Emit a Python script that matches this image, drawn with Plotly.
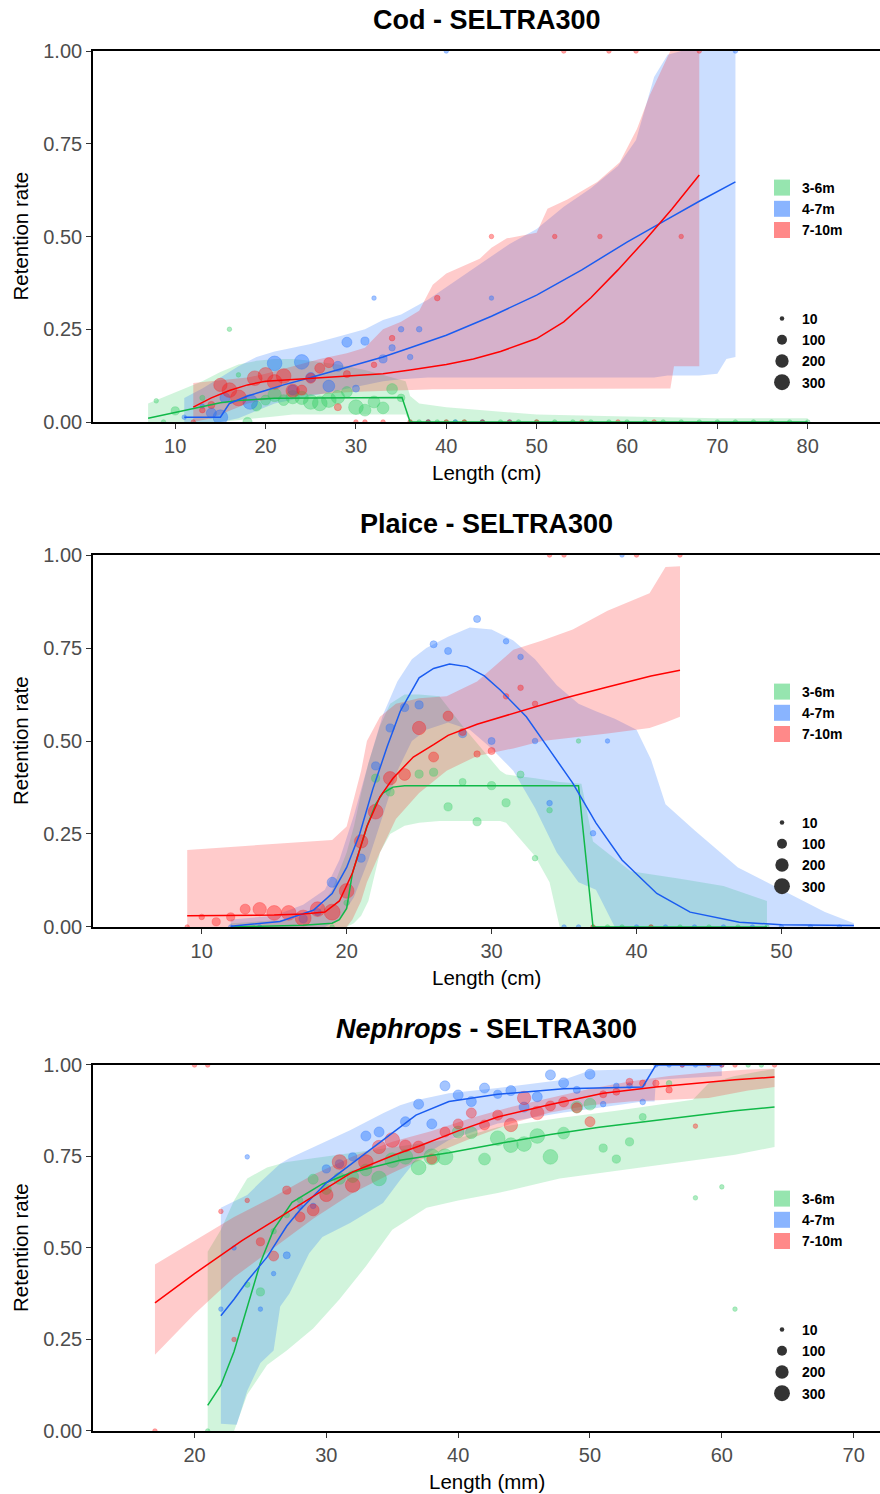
import math
import plotly.graph_objects as go

# ===================== DATA =====================
GROUPS = ["3-6m", "4-7m", "7-10m"]
SIZE_LEGEND = [10, 100, 200, 300]

# ---------- Cod ----------
COD_G_PT_L = [7.9, 8.7, 10, 13, 16, 17, 18, 19, 20, 21, 22, 23, 24, 25, 26, 27, 28, 29, 30, 31, 32, 33, 34, 35,
              36, 37, 38, 39, 40, 41, 42, 44, 46, 48, 50, 52, 54, 56, 58, 60, 62, 64, 66, 68, 70, 72, 74, 76, 78, 80]
COD_G_PT_R = [0.057, 0.0, 0.03, 0.065, 0.25, 0.127, 0.0, 0.043, 0.059, 0.073, 0.059, 0.067, 0.065, 0.054, 0.05, 0.059,
              0.067, 0.081, 0.04, 0.032, 0.054, 0.038, 0.089, 0.065,
              0, 0, 0, 0, 0, 0, 0, 0, 0, 0, 0, 0, 0, 0, 0, 0, 0, 0, 0, 0, 0, 0, 0, 0, 0, 0]
COD_G_PT_N = [10, 10, 60, 15, 10, 10, 80, 100, 100, 200, 120, 200, 200, 250, 250, 250, 200, 120, 250, 150, 150, 150, 120, 50,
              10, 10, 10, 10, 10, 10, 10, 10, 10, 10, 10, 10, 10, 10, 10, 10, 10, 10, 10, 10, 10, 10, 10, 10, 10, 10]
COD_B_PT_L = [11, 13, 14, 15, 15.5, 18.3, 21, 23, 24, 25, 27, 28, 29, 30, 31, 32, 33, 34, 35, 36, 37, 38, 40, 41, 44, 45, 47, 72]
COD_B_PT_R = [0.013, 0.043, 0.024, 0.013, 0.065, 0.054, 0.158, 0.086, 0.162, 0.12, 0.097, 0.15, 0.215, 0.09, 0.218,
              0.334, 0.17, 0.2, 0.25, 0.175, 0.25, 0.0, 1.0, 0.0, 0.0, 0.334, 0.0, 1.0]
COD_B_PT_N = [10, 10, 100, 250, 100, 250, 250, 100, 250, 100, 150, 100, 100, 40, 60, 10, 60, 30, 20, 20, 20, 10, 10, 10, 10, 10, 10, 10]
COD_R_PT_L = [12, 13, 14, 15, 16, 17, 18.8, 20, 21, 22, 23, 24, 25, 26, 27, 28, 29, 30, 31, 32, 33, 34, 36, 38, 39, 40,
              42, 44, 45, 47, 50, 52, 53, 55, 57, 58, 59, 61, 63, 66, 68]
COD_R_PT_R = [0.0, 0.032, 0.046, 0.1, 0.086, 0.065, 0.118, 0.127, 0.108, 0.124, 0.084, 0.086, 0.118, 0.145, 0.16, 0.04,
              0.129, 0.0, 0.0, 0.154, 0.0, 0.226, 0.0, 0.0, 0.334, 0.0, 0.0, 0.0, 0.5, 0.0, 0.0, 0.5, 1.0, 0.0, 0.5,
              1.0, 0.0, 1.0, 0.0, 0.5, 1.0]
COD_R_PT_N = [10, 20, 40, 200, 250, 300, 250, 250, 250, 250, 200, 100, 100, 100, 100, 40, 40, 10, 10, 20, 10, 20, 10, 10,
              20, 10, 10, 10, 10, 10, 10, 10, 10, 10, 10, 10, 10, 10, 10, 10, 10]

COD_G_FIT_L = [7, 9, 11, 13, 15, 17, 19, 21, 25, 30, 35.1, 36, 80]
COD_G_FIT_R = [0.01, 0.02, 0.03, 0.042, 0.052, 0.058, 0.062, 0.064, 0.065, 0.066, 0.066, 0.0, 0.0]
COD_B_FIT_L = [11, 15, 16, 18, 20, 22, 25, 28, 30, 33, 36, 40, 45, 50, 55, 60, 64, 68, 72]
COD_B_FIT_R = [0.013, 0.013, 0.05, 0.07, 0.085, 0.1, 0.12, 0.14, 0.155, 0.175, 0.2, 0.234, 0.285, 0.342, 0.41,
               0.485, 0.54, 0.595, 0.647]
COD_R_FIT_L = [12, 14, 16, 18, 20, 23, 26, 30, 33, 36, 40, 43, 46, 50, 53, 56, 59, 62, 65, 68]
COD_R_FIT_R = [0.04, 0.065, 0.085, 0.1, 0.11, 0.115, 0.118, 0.125, 0.13, 0.14, 0.155, 0.17, 0.19, 0.225, 0.27,
               0.335, 0.41, 0.49, 0.575, 0.666]

COD_G_BAND_L = [7, 9, 11, 13, 15, 17, 19, 21, 23, 25, 28, 31, 34, 35.5, 36, 37, 40, 45, 50, 60, 70, 80]
COD_G_BAND_HI = [0.05, 0.07, 0.09, 0.11, 0.135, 0.155, 0.165, 0.17, 0.17, 0.165, 0.155, 0.14, 0.12, 0.11, 0.07,
                 0.05, 0.04, 0.03, 0.02, 0.015, 0.01, 0.01]
COD_G_BAND_LO = [0, 0, 0, 0, 0, 0.005, 0.01, 0.015, 0.02, 0.02, 0.02, 0.02, 0.02, 0.02, 0, 0, 0, 0, 0, 0, 0, 0]
COD_B_BAND_L = [11, 13, 15, 17, 19, 21, 23, 25, 28, 31, 33, 35, 38, 41, 44, 47, 50, 53, 56, 59, 61, 63, 64.5, 66,
                68, 70, 71, 72]
COD_B_BAND_HI = [0.065, 0.09, 0.12, 0.15, 0.175, 0.19, 0.2, 0.21, 0.23, 0.25, 0.275, 0.29, 0.33, 0.38, 0.43, 0.48,
                 0.52, 0.58, 0.63, 0.69, 0.76, 0.93, 0.99, 1.0, 1.0, 1.0, 1.0, 1.0]
COD_B_BAND_LO = [0, 0, 0, 0.01, 0.03, 0.05, 0.06, 0.07, 0.085, 0.1, 0.11, 0.115, 0.12, 0.12, 0.12, 0.12, 0.12, 0.12,
                 0.12, 0.12, 0.12, 0.12, 0.125, 0.125, 0.125, 0.13, 0.17, 0.175]
COD_R_BAND_L = [12, 14, 16, 18, 20, 23, 26, 29, 31, 33, 35, 37, 38.5, 40, 43.7, 45, 46.7, 50, 51.2, 53.4, 56.7,
                59.2, 61.1, 62.5, 64.8, 65.2, 68]
COD_R_BAND_HI = [0.105, 0.11, 0.115, 0.12, 0.13, 0.15, 0.17, 0.185, 0.2, 0.25, 0.27, 0.3, 0.37, 0.4, 0.44, 0.47,
                 0.495, 0.51, 0.575, 0.6, 0.647, 0.7, 0.79, 0.88, 1.0, 1.0, 1.0]
COD_R_BAND_LO = [0, 0.01, 0.03, 0.05, 0.06, 0.07, 0.075, 0.08, 0.082, 0.085, 0.086, 0.087, 0.088, 0.088, 0.089,
                 0.09, 0.09, 0.09, 0.09, 0.09, 0.09, 0.09, 0.09, 0.09, 0.09, 0.15, 0.15]

# ---------- Plaice ----------
PLA_G_PT_L = [19, 20, 22, 23, 25, 26, 27, 28, 29, 30, 31, 32, 33, 34, 36, 37, 38, 39, 41, 43, 45, 47, 49]
PLA_G_PT_R = [0.0, 0.065, 0.4, 0.363, 0.411, 0.416, 0.323, 0.39, 0.283, 0.38, 0.334, 0.41, 0.185, 0.314, 0.5,
              0, 0, 0, 0, 0, 0, 0, 0]
PLA_G_PT_N = [10, 20, 60, 60, 60, 60, 60, 40, 60, 60, 60, 40, 20, 20, 10, 10, 10, 10, 10, 10, 10, 10, 10]
PLA_B_PT_L = [12, 14, 17, 18, 19, 21, 22, 23, 24, 25, 26, 27, 28, 29, 30, 31, 32, 33, 34, 35, 36, 37, 38, 39, 40,
              42, 44, 46, 48, 50, 52, 54]
PLA_B_PT_R = [0.0, 0.0, 0.022, 0.04, 0.12, 0.185, 0.433, 0.535, 0.59, 0.597, 0.76, 0.742, 0.52, 0.828, 0.5, 0.768,
              0.726, 0.5, 0.333, 0.0, 0.0, 0.252, 0.5, 1.0, 0.0, 0.0, 0.0, 0.0, 0.0, 0.0, 0.0, 0.0]
PLA_B_PT_N = [10, 10, 60, 40, 100, 60, 60, 60, 60, 60, 40, 40, 60, 40, 40, 20, 20, 20, 20, 10, 10, 20, 10, 10, 10,
              10, 10, 10, 10, 10, 10, 10]
PLA_R_PT_L = [9, 10, 11, 12, 13, 14, 15, 16, 17, 18, 19, 20, 21, 22, 23, 24, 25, 26, 27, 28, 29, 30, 31, 32, 33,
              34, 35, 37, 40, 41, 43]
PLA_R_PT_R = [0.0, 0.027, 0.014, 0.027, 0.048, 0.048, 0.038, 0.038, 0.024, 0.048, 0.04, 0.097, 0.23, 0.31, 0.4,
              0.41, 0.535, 0.457, 0.567, 0.524, 0.465, 0.473, 0.62, 0.643, 0.6, 1.0, 1.0, 0.0, 1.0, 0.0, 1.0]
PLA_R_PT_N = [10, 20, 60, 60, 100, 200, 250, 250, 300, 250, 300, 250, 200, 250, 200, 150, 200, 100, 100, 40, 30,
              40, 20, 20, 20, 10, 10, 10, 10, 10, 10]

PLA_G_FIT_L = [12, 17, 19, 19.5, 20, 20.4, 21, 21.4, 22, 22.5, 23.2, 24, 36, 37, 49]
PLA_G_FIT_R = [0.0, 0.005, 0.01, 0.02, 0.05, 0.145, 0.22, 0.27, 0.33, 0.36, 0.376, 0.38, 0.38, 0.0, 0.0]
PLA_B_FIT_L = [12, 15.4, 17.7, 19, 20, 20.9, 21.8, 22.8, 23.7, 25, 26, 27.1, 28.3, 29.5, 30.6, 32.4, 34, 35.6,
               37.2, 39, 41.4, 43.7, 47.1, 50, 55]
PLA_B_FIT_R = [0.002, 0.015, 0.045, 0.09, 0.16, 0.25, 0.37, 0.485, 0.58, 0.67, 0.695, 0.707, 0.7, 0.675, 0.637,
               0.565, 0.476, 0.387, 0.28, 0.18, 0.09, 0.04, 0.013, 0.006, 0.004]
PLA_R_FIT_L = [9, 12, 15, 17, 18.5, 19.5, 20.4, 21.4, 22.3, 23.2, 24.6, 26, 27, 29, 32, 35, 38, 41, 43]
PLA_R_FIT_R = [0.03, 0.03, 0.032, 0.035, 0.04, 0.07, 0.145, 0.27, 0.35, 0.4, 0.457, 0.49, 0.515, 0.545, 0.58,
               0.615, 0.645, 0.675, 0.69]

PLA_G_BAND_L = [12, 16, 18, 19, 20, 20.5, 21, 21.5, 22.3, 23, 24, 25, 26.4, 28, 30.6, 31, 33, 34, 34.7, 36.2, 37,
                39.6, 43, 46, 49]
PLA_G_BAND_HI = [0.01, 0.02, 0.04, 0.1, 0.2, 0.27, 0.36, 0.44, 0.54, 0.6, 0.625, 0.625, 0.62, 0.54, 0.42, 0.41,
                 0.4, 0.395, 0.39, 0.385, 0.23, 0.15, 0.13, 0.11, 0.07]
PLA_G_BAND_LO = [0, 0, 0, 0, 0, 0.01, 0.03, 0.07, 0.2, 0.25, 0.272, 0.28, 0.285, 0.285, 0.285, 0.28, 0.19, 0.12,
                 0.0, 0, 0, 0, 0, 0, 0]
PLA_B_BAND_L = [12, 15, 17, 18.5, 19.5, 20.5, 21.5, 22.5, 23.5, 24.5, 25.5, 27, 28.5, 30, 31.5, 33, 34.5, 36,
                37.2, 38.5, 40, 41, 42, 44, 47, 50, 53, 55]
PLA_B_BAND_HI = [0.02, 0.03, 0.06, 0.1, 0.18, 0.3, 0.44, 0.57, 0.66, 0.72, 0.75, 0.78, 0.805, 0.8, 0.77, 0.72, 0.65,
                 0.6, 0.58, 0.56, 0.53, 0.45, 0.33, 0.26, 0.16, 0.1, 0.04, 0.01]
PLA_B_BAND_LO = [0, 0, 0, 0, 0.02, 0.08, 0.18, 0.3, 0.42, 0.5, 0.53, 0.55, 0.53, 0.48, 0.42, 0.32, 0.2, 0.12, 0.1,
                 0.0, 0, 0, 0, 0, 0, 0, 0, 0]
PLA_R_BAND_L = [9, 12, 15, 18, 19, 20, 20.4, 21, 21.4, 22.3, 23.4, 25, 26.9, 29, 31.5, 33.5, 35.6, 38, 40.9, 42, 43]
PLA_R_BAND_HI = [0.207, 0.215, 0.222, 0.23, 0.234, 0.27, 0.33, 0.42, 0.5, 0.565, 0.6, 0.615, 0.62, 0.66, 0.745,
                 0.77, 0.8, 0.85, 0.897, 0.968, 0.97]
PLA_R_BAND_LO = [0, 0, 0, 0, 0, 0, 0.02, 0.07, 0.12, 0.2, 0.29, 0.36, 0.42, 0.46, 0.48, 0.5, 0.51, 0.52, 0.535,
                 0.55, 0.565]

# ---------- Nephrops ----------
NEP_G_PT_L = [21, 24, 25, 26, 27, 28, 29, 30, 31, 32, 33, 34, 35, 36, 37, 38, 39, 40, 41, 42, 43, 44, 45, 46, 47,
              48, 49, 50, 51, 52, 53, 54, 56, 58, 60, 61, 62, 63]
NEP_G_PT_R = [0.0, 0.4, 0.38, 0.546, 0.59, 0.631, 0.688, 0.66, 0.69, 0.695, 0.713, 0.69, 0.74, 0.749, 0.72, 0.749,
              0.749, 0.817, 0.815, 0.743, 0.8, 0.781, 0.784, 0.806, 0.749, 0.814, 0.885, 0.893, 0.773, 0.743, 0.79,
              0.858, 0.95, 0.637, 0.667, 0.333, 1.0, 1.0]
NEP_G_PT_N = [10, 20, 60, 20, 20, 20, 100, 100, 150, 150, 150, 250, 250, 250, 250, 300, 300, 150, 150, 150, 250,
              250, 250, 250, 250, 150, 150, 150, 60, 60, 60, 40, 20, 10, 10, 10, 10, 10]
NEP_B_PT_L = [22, 23, 24, 25, 26, 27, 28, 29, 30, 31, 32, 33, 34, 36, 37, 38, 39, 40, 41, 42, 43, 44, 45, 46, 47,
              48, 49, 50, 51, 52, 53, 54, 55, 56, 57, 58, 60]
NEP_B_PT_R = [0.333, 0.5, 0.749, 0.333, 0.43, 0.48, 0.613, 0.615, 0.716, 0.73, 0.749, 0.806, 0.817, 0.845, 0.893,
              0.839, 0.943, 0.918, 0.9, 0.937, 0.92, 0.93, 0.885, 0.913, 0.973, 0.951, 0.932, 0.975, 0.893, 0.943,
              0.943, 0.899, 1.0, 1.0, 1.0, 1.0, 1.0]
NEP_B_PT_N = [10, 10, 10, 10, 10, 40, 20, 20, 60, 60, 60, 100, 100, 100, 100, 100, 100, 100, 100, 100, 60, 100,
              100, 100, 100, 100, 40, 100, 20, 20, 20, 20, 10, 10, 10, 10, 10]
NEP_R_PT_L = [17, 20, 21, 22, 23, 24, 25, 26, 27, 28, 29, 30, 31, 32, 33, 34, 35, 36, 37, 38, 39, 40, 41, 42, 43,
              44, 45, 46, 47, 48, 49, 50, 51, 52, 53, 54, 55, 56, 57, 58, 59, 60, 61, 64]
NEP_R_PT_R = [0.0, 1.0, 1.0, 0.6, 0.25, 0.63, 0.517, 0.478, 0.658, 0.585, 0.604, 0.645, 0.735, 0.672, 0.735,
              0.776, 0.795, 0.779, 0.776, 0.743, 0.817, 0.839, 0.869, 0.836, 0.863, 0.836, 0.91, 0.869, 0.888, 0.899,
              0.883, 0.845, 0.92, 0.927, 0.954, 0.95, 0.95, 0.932, 1.0, 0.833, 1.0, 1.0, 1.0, 1.0]
NEP_R_PT_N = [10, 10, 10, 10, 10, 10, 60, 100, 60, 100, 150, 200, 250, 250, 250, 200, 250, 150, 150, 100, 100,
              100, 100, 100, 100, 200, 200, 200, 100, 100, 100, 100, 40, 40, 40, 30, 30, 30, 10, 10, 10, 10, 10, 10]

NEP_G_FIT_L = [21, 22, 23, 24, 25, 26, 27.4, 29.7, 31.8, 35.6, 39.3, 43, 47, 50.7, 54, 58.3, 61, 64]
NEP_G_FIT_R = [0.07, 0.125, 0.217, 0.34, 0.46, 0.55, 0.625, 0.675, 0.705, 0.74, 0.76, 0.785, 0.81, 0.83, 0.845,
               0.863, 0.875, 0.885]
NEP_B_FIT_L = [22, 23, 24, 25.5, 27, 28, 30, 32.3, 34.3, 36.8, 39.3, 43, 48, 54, 55, 60]
NEP_B_FIT_R = [0.315, 0.36, 0.41, 0.475, 0.56, 0.604, 0.678, 0.74, 0.795, 0.863, 0.9, 0.92, 0.935, 0.94, 1.0, 1.0]
NEP_R_FIT_L = [17, 20, 23.6, 27, 30, 32, 35, 37, 40, 43, 47, 51, 55, 58, 61, 64]
NEP_R_FIT_R = [0.35, 0.43, 0.52, 0.596, 0.665, 0.708, 0.752, 0.778, 0.82, 0.858, 0.892, 0.923, 0.94, 0.95, 0.96,
               0.967]

NEP_G_BAND_L = [21, 22, 23, 24, 25.5, 27, 29, 31, 33, 35, 37.6, 40, 43, 47.7, 52, 55, 57.8, 59, 61, 64]
NEP_G_BAND_HI = [0.49, 0.55, 0.63, 0.69, 0.72, 0.735, 0.745, 0.755, 0.765, 0.775, 0.79, 0.8, 0.83, 0.855, 0.875,
                 0.89, 0.905, 0.95, 0.97, 0.99]
NEP_G_BAND_LO = [0, 0, 0, 0.1, 0.18, 0.22, 0.28, 0.36, 0.45, 0.55, 0.61, 0.63, 0.65, 0.69, 0.71, 0.725, 0.74,
                 0.745, 0.755, 0.776]
NEP_B_BAND_L = [22, 23.2, 24, 25, 26, 26.5, 27.2, 28.7, 29.7, 31.8, 34.3, 35.6, 36.8, 39.3, 43, 48, 50, 54, 54.9,
                55, 60]
NEP_B_BAND_HI = [0.61, 0.63, 0.645, 0.68, 0.713, 0.73, 0.745, 0.77, 0.787, 0.822, 0.868, 0.89, 0.904, 0.923,
                 0.937, 0.96, 0.985, 0.99, 0.99, 1.0, 1.0]
NEP_B_BAND_LO = [0.02, 0.017, 0.11, 0.186, 0.22, 0.34, 0.376, 0.486, 0.53, 0.568, 0.623, 0.686, 0.74, 0.795,
                 0.84, 0.87, 0.88, 0.9, 0.9, 0.96, 0.97]
NEP_R_BAND_L = [17, 20, 23, 26, 29, 32, 35, 38, 41, 44, 47, 50, 53, 56, 59, 62, 64]
NEP_R_BAND_HI = [0.455, 0.52, 0.585, 0.64, 0.7, 0.75, 0.79, 0.82, 0.855, 0.885, 0.91, 0.935, 0.955, 0.97, 0.98,
                 0.988, 0.99]
NEP_R_BAND_LO = [0.208, 0.32, 0.42, 0.5, 0.58, 0.65, 0.705, 0.755, 0.8, 0.84, 0.87, 0.89, 0.9, 0.905, 0.91, 0.93,
                 0.94]

# ===================== STYLE =====================
FONT = "Liberation Sans, Arial, sans-serif"
BASE = {"3-6m": (46, 204, 96), "4-7m": (20, 105, 255), "7-10m": (255, 20, 20)}
LINE = {"3-6m": "#10B848", "4-7m": "#1A5CF0", "7-10m": "#FF0000"}


def rgba(g, a):
    r, gg, b = BASE[g]
    return f"rgba({r},{gg},{b},{a})"


def size_px(n):
    return 2 + 0.8 * math.sqrt(n)


PANELS = [
    dict(title="<b>Cod - SELTRA300</b>", xtitle="Length (cm)", xrange=[0.9, 88], ticks=[10, 20, 30, 40, 50, 60, 70, 80],
         dom=[0.73116, 1.0],
         pts={"3-6m": (COD_G_PT_L, COD_G_PT_R, COD_G_PT_N), "4-7m": (COD_B_PT_L, COD_B_PT_R, COD_B_PT_N),
              "7-10m": (COD_R_PT_L, COD_R_PT_R, COD_R_PT_N)},
         fit={"3-6m": (COD_G_FIT_L, COD_G_FIT_R), "4-7m": (COD_B_FIT_L, COD_B_FIT_R), "7-10m": (COD_R_FIT_L, COD_R_FIT_R)},
         band={"3-6m": (COD_G_BAND_L, COD_G_BAND_LO, COD_G_BAND_HI), "4-7m": (COD_B_BAND_L, COD_B_BAND_LO, COD_B_BAND_HI),
               "7-10m": (COD_R_BAND_L, COD_R_BAND_LO, COD_R_BAND_HI)}),
    dict(title="<b>Plaice - SELTRA300</b>", xtitle="Length (cm)", xrange=[2.5, 56.8], ticks=[10, 20, 30, 40, 50],
         dom=[0.36522, 0.63478],
         pts={"3-6m": (PLA_G_PT_L, PLA_G_PT_R, PLA_G_PT_N), "4-7m": (PLA_B_PT_L, PLA_B_PT_R, PLA_B_PT_N),
              "7-10m": (PLA_R_PT_L, PLA_R_PT_R, PLA_R_PT_N)},
         fit={"3-6m": (PLA_G_FIT_L, PLA_G_FIT_R), "4-7m": (PLA_B_FIT_L, PLA_B_FIT_R), "7-10m": (PLA_R_FIT_L, PLA_R_FIT_R)},
         band={"3-6m": (PLA_G_BAND_L, PLA_G_BAND_LO, PLA_G_BAND_HI), "4-7m": (PLA_B_BAND_L, PLA_B_BAND_LO, PLA_B_BAND_HI),
               "7-10m": (PLA_R_BAND_L, PLA_R_BAND_LO, PLA_R_BAND_HI)}),
    dict(title="<b><i>Nephrops</i> - SELTRA300</b>", xtitle="Length (mm)", xrange=[12.3, 72],
         ticks=[20, 30, 40, 50, 60, 70], dom=[0.0, 0.26522],
         pts={"3-6m": (NEP_G_PT_L, NEP_G_PT_R, NEP_G_PT_N), "4-7m": (NEP_B_PT_L, NEP_B_PT_R, NEP_B_PT_N),
              "7-10m": (NEP_R_PT_L, NEP_R_PT_R, NEP_R_PT_N)},
         fit={"3-6m": (NEP_G_FIT_L, NEP_G_FIT_R), "4-7m": (NEP_B_FIT_L, NEP_B_FIT_R), "7-10m": (NEP_R_FIT_L, NEP_R_FIT_R)},
         band={"3-6m": (NEP_G_BAND_L, NEP_G_BAND_LO, NEP_G_BAND_HI), "4-7m": (NEP_B_BAND_L, NEP_B_BAND_LO, NEP_B_BAND_HI),
               "7-10m": (NEP_R_BAND_L, NEP_R_BAND_LO, NEP_R_BAND_HI)}),
]

W, H = 880, 1494
ML, MR, MT, MB = 93, 0, 51, 63
PW, PH = W - ML - MR, H - MT - MB


def py2paper(py):
    return 1 - (py - MT) / PH


def px2paper(px):
    return (px - ML) / PW


fig = go.Figure()
layout = dict(width=W, height=H, margin=dict(l=ML, r=MR, t=MT, b=MB), plot_bgcolor="white", paper_bgcolor="white",
              font=dict(family=FONT), showlegend=True)
annotations = []

# legend positions (top pixel of each legend box)
FILL_LEG_TOP = [172, 676, 1183]
SIZE_LEG_TOP = [303, 807, 1314]
PLOT_MID_Y = [236.5, 741, 1248]
TITLE_Y = [20, 524, 1029]
XTITLE_Y = [473, 977, 1482]

for i, P in enumerate(PANELS):
    sx = "" if i == 0 else str(i + 1)
    xa, ya = "x" + sx, "y" + sx
    # ribbons
    for g in GROUPS:
        L, lo, hi = P["band"][g]
        fig.add_trace(go.Scatter(x=list(L) + list(L)[::-1], y=list(hi) + list(lo)[::-1], fill="toself",
                                 fillcolor=rgba(g, 0.22), line=dict(width=0), mode="lines", hoverinfo="skip",
                                 showlegend=False, xaxis=xa, yaxis=ya))
    # points
    for g in GROUPS:
        L, R, N = P["pts"][g]
        fig.add_trace(go.Scatter(x=L, y=R, mode="markers",
                                 marker=dict(size=[size_px(n) for n in N], color=rgba(g, 0.55),
                                             line=dict(width=1, color=rgba(g, 0.45))),
                                 showlegend=False, xaxis=xa, yaxis=ya))
    # fitted curves
    for g in GROUPS:
        L, R = P["fit"][g]
        fig.add_trace(go.Scatter(x=L, y=R, mode="lines", line=dict(color=LINE[g], width=1.5), showlegend=False,
                                 xaxis=xa, yaxis=ya))
    # legends
    leg_fill = "legend" if i == 0 else f"legend{2 * i + 1}"
    leg_size = f"legend{2 * i + 2}"
    for g in GROUPS:
        fig.add_trace(go.Scatter(x=[None], y=[None], mode="markers", name=g, legend=leg_fill,
                                 marker=dict(symbol="square", size=16, color=rgba(g, 0.5)), xaxis=xa, yaxis=ya))
    for n in SIZE_LEGEND:
        fig.add_trace(go.Scatter(x=[None], y=[None], mode="markers", name=str(n), legend=leg_size,
                                 marker=dict(size=size_px(n), color="#333333"), xaxis=xa, yaxis=ya))
    leg_common = dict(xanchor="left", yanchor="top", x=px2paper(762), bgcolor="rgba(0,0,0,0)",
                      font=dict(family=FONT, size=14, color="black", weight="bold"), itemclick=False,
                      itemdoubleclick=False)
    layout[leg_fill] = dict(y=py2paper(FILL_LEG_TOP[i]), **leg_common)
    layout[leg_size] = dict(y=py2paper(SIZE_LEG_TOP[i]), **leg_common)

    layout["xaxis" + sx] = dict(domain=[0, 1], range=P["xrange"], anchor=ya, tickvals=P["ticks"], showline=True,
                                linecolor="black", linewidth=1.6, mirror=True, ticks="outside", ticklen=5,
                                tickwidth=1.4, tickcolor="#333333", showgrid=False, zeroline=False,
                                tickfont=dict(family=FONT, size=20, color="#4D4D4D"))
    layout["yaxis" + sx] = dict(domain=P["dom"], range=[0, 1], anchor=xa, tickvals=[0, 0.25, 0.5, 0.75, 1],
                                ticktext=["0.00", "0.25", "0.50", "0.75", "1.00"], showline=True, linecolor="black",
                                linewidth=1.6, ticks="outside", ticklen=5, tickwidth=1.4, tickcolor="#333333",
                                showgrid=False, zeroline=False, tickfont=dict(family=FONT, size=20, color="#4D4D4D"))
    annotations.append(dict(text=P["title"], xref="paper", yref="paper", x=0.5, y=py2paper(TITLE_Y[i]),
                            xanchor="center", yanchor="middle", showarrow=False,
                            font=dict(family=FONT, size=27, color="black")))
    annotations.append(dict(text=P["xtitle"], xref="paper", yref="paper", x=0.5, y=py2paper(XTITLE_Y[i]),
                            xanchor="center", yanchor="middle", showarrow=False,
                            font=dict(family=FONT, size=20.5, color="black")))
    annotations.append(dict(text="Retention rate", xref="paper", yref="paper", x=px2paper(20),
                            y=py2paper(PLOT_MID_Y[i]), xanchor="center", yanchor="middle", textangle=-90,
                            showarrow=False, font=dict(family=FONT, size=20.5, color="black")))

layout["annotations"] = annotations
fig.update_layout(**layout)
fig.write_html("out.html", config={"displayModeBar": False},
               post_script="document.body.style.margin='0px';document.body.style.overflow='hidden';")
